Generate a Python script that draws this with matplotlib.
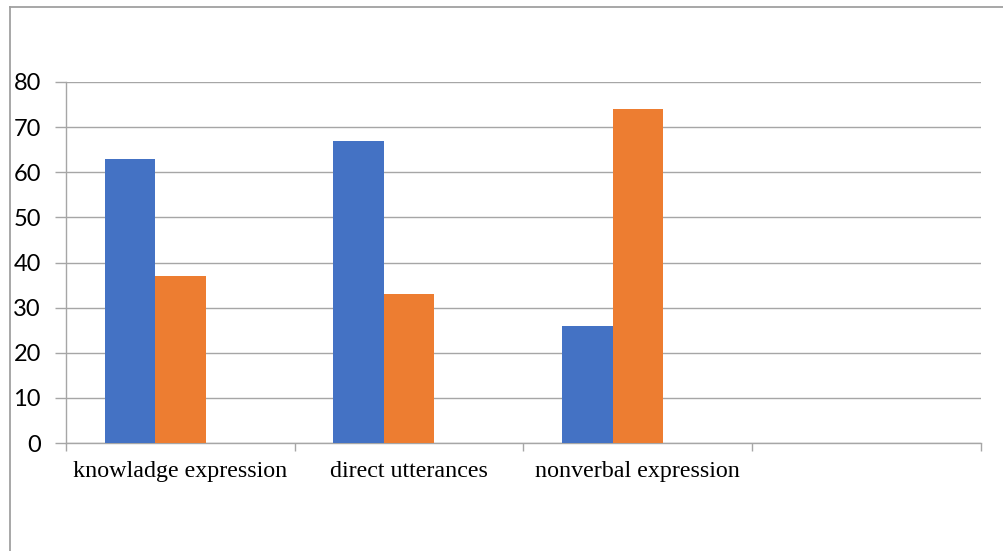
import matplotlib
matplotlib.use("Agg")
import matplotlib.pyplot as plt
from matplotlib.lines import Line2D
import numpy as np

categories = ["knowladge expression", "direct utterances", "nonverbal expression", ""]
series_1 = [63, 67, 26, None]
series_2 = [37, 33, 74, None]
series_3 = [None, None, None, None]
y_ticks = [0, 10, 20, 30, 40, 50, 60, 70, 80]

blue = "#4472C4"
orange = "#ED7D31"
grid_col = "#a6a6a6"

fig = plt.figure(figsize=(10.04, 5.51), dpi=100)
ax = fig.add_axes([66 / 1004, 1 - 443 / 551, (981 - 66) / 1004, (443 - 82) / 551])

x = np.arange(len(categories))
w = 0.221
for offset, vals, col in [(-w, series_1, blue), (0.0, series_2, orange), (w, series_3, "#A5A5A5")]:
    xs = [xi + offset for xi, v in zip(x, vals) if v is not None]
    hs = [v for v in vals if v is not None]
    if hs:
        ax.bar(xs, hs, width=w, color=col, edgecolor="none", zorder=3)

ax.set_xlim(-0.5, len(categories) - 0.5)
ax.set_ylim(0, 80)
ax.set_yticks(y_ticks)
ax.set_yticklabels([str(t) for t in y_ticks], fontfamily="Lato", fontsize=17)
ax.tick_params(axis="y", length=8, width=1, color=grid_col, pad=10)

ax.set_xticks(np.arange(len(categories) + 1) - 0.5)
ax.set_xticklabels([])
ax.tick_params(axis="x", length=6, width=1, color=grid_col)
for xi, lab in zip(x, categories):
    ax.text(xi, -3.9, lab, ha="center", va="top", fontfamily="Liberation Serif",
            fontsize=17.3, transform=ax.transData)

ax.yaxis.grid(True, color=grid_col, linewidth=1, zorder=0)
ax.set_axisbelow(True)
for s in ["top", "right"]:
    ax.spines[s].set_visible(False)
for s in ["left", "bottom"]:
    ax.spines[s].set_color(grid_col)
    ax.spines[s].set_linewidth(1)

# outer chart border
fig.add_artist(Line2D([10 / 1004, 1.0], [1 - 7 / 551, 1 - 7 / 551], transform=fig.transFigure,
                      color="#a0a0a0", linewidth=1.3))
fig.add_artist(Line2D([10 / 1004, 10 / 1004], [0.0, 1 - 7 / 551], transform=fig.transFigure,
                      color="#a0a0a0", linewidth=1.3))

fig.savefig("out.png", dpi=100)
